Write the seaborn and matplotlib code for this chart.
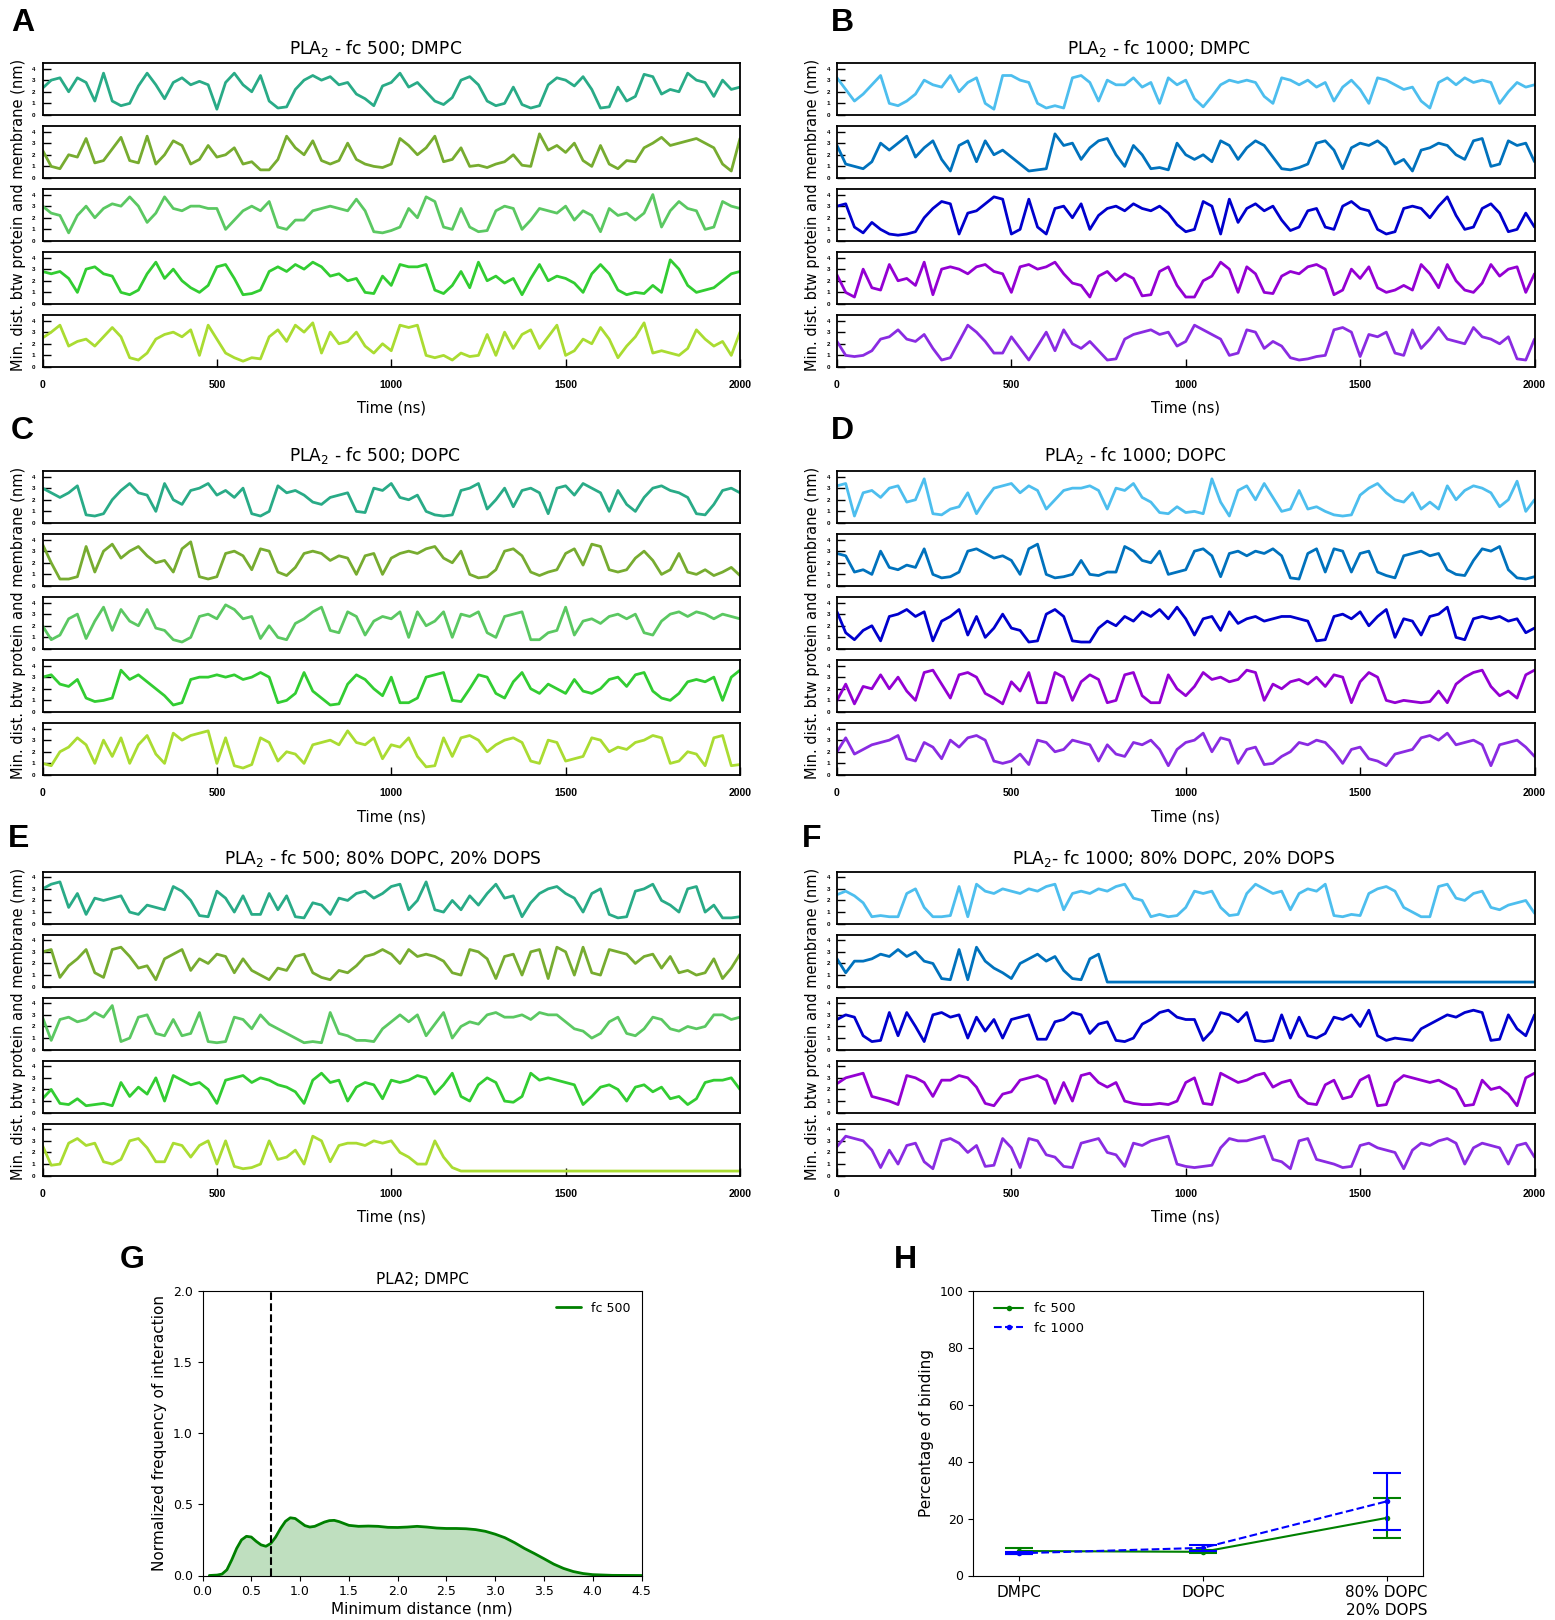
import matplotlib
matplotlib.use("Agg")
import matplotlib.pyplot as plt
import seaborn as sns
import numpy as np

sns.set_theme(style="ticks")
plt.rcParams['font.family'] = ['DejaVu Sans']
plt.rcParams['text.color'] = 'black'
plt.rcParams['axes.labelcolor'] = 'black'
plt.rcParams['xtick.color'] = 'black'
plt.rcParams['ytick.color'] = 'black'

# ---------------- data ----------------
time_ns = list(range(0, 2001, 25))

# fc 500; DMPC (panel A)
a1 = [2.3,3.0,3.2,2.0,3.2,2.8,1.2,3.6,1.2,0.8, 1.0,2.5,3.6,2.6,1.4,2.8,3.2,2.6,2.9,2.6, 0.5,2.8,3.6,2.6,2.0,3.4,1.2,0.6,0.7,2.2, 3.0,3.4,3.0,3.3,2.6,2.8,1.8,1.4,0.8,2.5, 2.8,3.6,2.4,2.8,2.0,1.2,0.9,1.5,3.0,3.3, 2.6,1.2,0.8,1.0,2.4,0.9,0.6,0.8,2.6,3.2, 3.0,2.5,3.3,2.2,0.6,0.7,2.4,1.2,1.6,3.5, 3.3,1.8,2.2,2.0,3.6,3.0,2.8,1.6,3.0,2.2, 2.4]
a2 = [2.4,1.0,0.8,2.0,1.8,3.4,1.3,1.5,2.5,3.5, 1.5,1.3,3.6,1.2,2.0,3.2,2.8,1.2,1.6,2.8, 1.8,2.0,2.6,1.2,1.4,0.7,0.7,1.6,3.6,2.6, 2.0,3.2,1.5,1.2,1.5,3.0,1.6,1.2,1.0,0.9, 1.2,3.4,2.8,2.0,2.6,3.6,1.4,1.6,2.6,1.0, 1.1,0.9,1.2,1.4,2.0,1.1,1.0,3.8,2.4,2.8, 2.2,3.0,1.5,1.0,2.8,1.2,0.8,1.5,1.4,2.6, 3.0,3.5,2.8,3.0,3.2,3.4,3.0,2.6,1.2,0.6, 3.4]
a3 = [3.0,2.4,2.2,0.7,2.2,3.0,2.0,2.8,3.2,3.0, 3.8,3.0,1.6,2.4,3.8,2.8,2.6,3.0,3.0,2.8, 2.8,1.0,1.8,2.6,3.0,2.6,3.4,1.2,1.0,1.8, 1.8,2.6,2.8,3.0,2.8,2.6,3.6,2.6,0.8,0.7, 0.9,1.2,2.8,2.0,3.8,3.4,1.2,1.0,2.8,1.2, 0.8,0.9,2.6,3.0,2.8,1.0,1.8,2.8,2.6,2.4, 3.0,1.8,2.6,2.2,0.8,2.8,2.2,2.4,1.8,2.4, 4.0,1.2,2.6,3.4,2.8,2.6,1.0,1.2,3.4,3.0, 2.8]
a4 = [2.8,2.6,2.8,2.2,1.0,3.0,3.2,2.6,2.4,1.0, 0.8,1.2,2.6,3.6,2.2,3.0,2.0,1.4,1.0,1.6, 3.2,3.4,2.2,0.8,0.9,1.2,2.8,3.2,2.8,3.4, 3.0,3.6,3.2,2.4,2.6,2.0,2.2,1.0,0.9,2.4, 1.6,3.4,3.2,3.2,3.4,1.2,0.9,1.6,2.8,1.4, 3.6,2.0,2.4,1.8,2.2,0.8,2.2,3.4,2.0,2.4, 2.2,1.8,1.0,2.6,3.4,2.6,1.2,0.8,1.0,0.9, 1.6,1.0,3.8,3.0,1.6,1.0,1.2,1.4,2.0,2.6, 2.8]
a5 = [2.5,3.0,3.6,1.8,2.2,2.4,1.8,2.6,3.4,2.6, 0.8,0.6,1.2,2.4,2.8,3.0,2.6,3.2,1.0,3.6, 2.4,1.2,0.8,0.5,0.8,0.7,2.6,3.2,2.2,3.6, 3.0,3.8,1.2,3.0,2.0,2.2,3.0,1.8,1.2,2.0, 1.4,3.6,3.4,3.6,1.0,0.8,1.0,0.6,1.2,0.9, 1.0,2.8,1.0,3.0,1.6,2.8,3.2,1.6,2.6,3.6, 1.0,1.4,2.4,2.0,3.4,2.4,0.8,1.8,2.6,3.8, 1.2,1.4,1.2,1.0,1.6,3.2,2.4,1.8,2.2,1.0, 3.0]

# fc 1000; DMPC (panel B)
b1 = [3.2,2.2,1.2,1.8,2.6,3.4,1.0,0.8,1.2,1.8, 3.0,2.6,2.4,3.4,2.0,2.8,3.2,1.0,0.5,3.4, 3.4,3.0,2.8,1.0,0.6,0.8,0.6,3.2,3.4,2.8, 1.2,3.0,2.6,2.6,3.2,2.4,2.8,1.0,3.2,2.6, 3.0,1.4,0.7,1.6,2.6,3.0,2.8,3.0,2.8,1.6, 1.0,3.2,3.0,2.6,3.0,2.4,2.8,1.2,2.4,3.0, 2.2,1.0,3.2,3.0,2.6,2.2,2.4,1.2,0.6,2.8, 3.2,2.6,3.2,2.8,3.0,2.8,1.0,2.0,2.8,2.4, 2.6]
b2 = [2.8,1.2,1.0,0.8,1.4,3.0,2.4,3.0,3.6,1.8, 2.6,3.2,1.6,0.6,2.8,3.2,1.4,3.2,2.0,2.4, 1.8,1.2,0.6,0.7,0.8,3.8,2.8,3.0,1.6,2.6, 3.2,3.4,2.0,1.0,2.8,2.0,0.8,0.9,0.7,3.0, 2.0,1.6,2.0,1.4,3.2,2.8,1.6,2.6,3.2,2.8, 1.8,0.8,0.7,0.9,1.2,3.0,3.2,2.4,0.8,2.6, 3.0,2.8,3.2,2.6,1.2,1.6,0.6,2.4,2.6,3.0, 2.8,2.0,1.6,3.2,3.4,1.0,1.2,3.2,2.8,3.0, 1.4]
b3 = [3.0,3.2,1.2,0.7,1.6,1.0,0.6,0.5,0.6,0.8, 2.0,2.8,3.4,3.2,0.6,2.4,2.6,3.2,3.8,3.6, 0.6,1.0,3.6,1.2,0.6,2.8,3.0,2.0,3.2,1.0, 2.2,2.8,3.0,2.6,3.2,2.8,2.6,3.0,2.4,1.4, 0.8,1.0,3.4,3.0,0.6,3.6,1.6,2.8,3.2,2.6, 3.0,1.8,0.9,1.2,2.6,2.8,1.2,1.0,3.0,3.4, 2.8,2.6,1.0,0.6,0.8,2.8,3.0,2.8,2.0,3.0, 3.8,2.2,1.0,1.2,2.8,3.2,2.4,0.8,1.0,2.4, 1.2]
b4 = [2.5,1.0,0.6,3.0,1.4,1.2,3.4,2.0,2.2,1.6, 3.6,0.8,3.0,3.2,3.0,2.6,3.2,3.4,2.8,2.6, 1.0,3.2,3.4,3.0,3.2,3.6,2.6,1.8,1.6,0.6, 2.4,2.8,2.0,2.6,2.2,0.7,0.8,2.8,3.2,1.6, 0.6,0.6,2.0,2.4,3.6,3.0,1.0,3.2,2.6,1.0, 0.9,2.4,2.8,2.6,3.2,3.4,3.0,0.8,1.2,3.0, 2.2,3.2,1.4,1.0,1.2,1.6,1.2,3.4,2.6,1.4, 3.4,2.0,1.2,1.0,1.8,3.4,2.4,3.0,3.2,1.0, 2.6]
b5 = [2.2,1.0,0.9,1.0,1.4,2.4,2.6,3.2,2.4,2.2, 2.8,1.6,0.6,0.8,2.2,3.6,3.0,2.2,1.2,1.2, 2.6,1.6,0.6,1.8,3.0,1.4,3.2,2.0,1.6,2.2, 1.4,0.6,0.7,2.4,2.8,3.0,3.2,2.8,3.0,1.8, 2.2,3.6,3.2,2.8,2.4,1.0,1.2,3.2,3.0,1.6, 2.2,1.8,0.8,0.6,0.7,0.9,1.0,3.2,3.4,3.0, 0.9,2.8,2.6,3.0,1.2,1.0,3.2,1.6,2.4,3.4, 2.4,2.2,2.0,3.4,2.6,2.4,2.0,2.6,0.7,0.6, 2.4]

# fc 500; DOPC (panel C)
c1 = [3.0,2.6,2.2,2.6,3.2,0.7,0.6,0.8,2.0,2.8, 3.4,2.6,2.4,1.0,3.4,2.0,1.6,2.8,3.0,3.4, 2.4,2.8,2.2,3.0,0.8,0.6,1.0,3.2,2.6,2.8, 2.4,1.8,1.6,2.2,2.4,2.6,1.0,0.9,3.0,2.8, 3.4,2.2,2.0,2.4,1.0,0.7,0.6,0.7,2.8,3.0, 3.4,1.2,2.0,3.0,1.4,2.8,3.0,2.6,0.8,3.0, 3.2,2.4,3.4,3.0,2.6,1.0,2.8,1.6,1.0,2.2, 3.0,3.2,2.8,2.6,2.2,0.8,0.7,1.6,2.8,3.0, 2.6]
c2 = [3.6,2.0,0.6,0.6,0.8,3.4,1.2,3.0,3.6,2.4, 3.0,3.4,2.6,2.0,2.2,1.2,3.2,3.8,0.8,0.6, 0.8,2.8,3.0,2.6,1.4,3.2,3.0,1.2,0.9,1.6, 2.8,3.0,2.8,2.2,2.6,2.4,1.0,2.6,2.8,1.0, 2.4,2.8,3.0,2.8,3.2,3.4,2.4,2.0,3.0,1.0, 0.7,0.8,1.4,3.0,3.2,2.6,1.2,0.9,1.2,1.4, 2.8,3.2,1.8,3.6,3.4,1.4,1.2,1.4,2.4,3.0, 2.2,1.0,1.4,2.8,1.2,1.0,1.4,0.9,1.2,1.6, 0.9]
c3 = [2.0,0.8,1.2,2.6,3.0,0.9,2.4,3.6,1.6,3.4, 2.4,2.0,3.4,1.8,1.6,0.8,0.6,1.0,2.8,3.0, 2.6,3.8,3.4,2.6,2.8,0.9,2.0,1.0,0.8,2.2, 2.6,3.2,3.6,1.6,1.4,3.2,2.8,1.2,2.4,2.8, 2.6,3.2,1.0,3.2,2.0,2.4,3.2,1.0,3.0,2.8, 3.2,1.4,1.0,2.8,3.0,3.2,0.8,0.8,1.4,1.6, 3.6,1.2,2.4,2.6,2.2,2.8,3.0,2.6,3.0,1.4, 1.2,2.4,3.0,3.2,2.8,3.2,3.0,2.6,3.0,2.8, 2.6]
c4 = [3.0,3.2,2.4,2.2,2.8,1.2,0.9,1.0,1.2,3.6, 2.8,3.2,2.6,2.0,1.4,0.6,0.8,2.8,3.0,3.0, 3.2,3.0,3.2,2.8,3.0,3.4,3.0,0.8,1.0,1.6, 3.4,1.8,1.2,0.6,0.7,2.4,3.2,2.8,2.0,1.4, 3.0,0.8,0.8,1.2,3.0,3.2,3.4,1.0,0.9,2.0, 3.2,3.0,1.6,1.2,2.6,3.4,2.0,1.6,2.4,2.0, 1.6,2.8,1.8,1.6,2.0,2.8,3.0,2.2,3.2,3.4, 1.8,1.2,1.0,1.6,2.6,2.8,2.6,3.0,1.0,3.0, 3.6]
c5 = [1.0,0.8,2.0,2.4,3.2,2.6,1.0,3.0,1.6,3.2, 1.0,2.6,3.4,1.8,1.0,3.6,3.0,3.4,3.6,3.8, 1.0,3.2,0.8,0.6,0.9,3.2,2.8,1.2,2.0,1.8, 1.0,2.6,2.8,3.0,2.6,3.8,2.8,2.6,3.2,1.4, 2.6,2.4,3.2,1.6,0.7,0.8,3.2,1.6,3.2,3.4, 3.0,2.0,2.6,3.0,3.2,2.8,1.2,1.0,3.0,2.8, 1.2,1.4,1.6,3.2,3.0,2.0,2.4,2.2,2.8,3.0, 3.4,3.2,1.0,1.2,2.0,1.8,0.8,3.2,3.4,0.8, 0.9]

# fc 1000; DOPC (panel D)
d1 = [3.2,3.4,0.6,2.6,2.8,2.2,3.0,3.2,1.8,2.0, 3.8,0.8,0.7,1.2,1.4,2.6,0.8,2.0,3.0,3.2, 3.4,2.6,3.2,2.8,1.2,2.0,2.8,3.0,3.0,3.2, 2.8,1.2,3.0,2.8,3.4,2.2,1.8,0.9,0.8,1.4, 0.9,1.0,0.8,3.8,1.8,0.6,2.8,3.2,2.0,3.4, 2.2,1.0,1.2,2.8,1.2,1.4,1.0,0.7,0.6,0.7, 2.4,3.0,3.4,2.6,2.0,1.8,2.6,1.2,1.8,1.2, 3.2,2.0,2.8,3.2,3.0,2.6,1.4,2.0,3.6,1.0, 2.0]
d2 = [2.8,2.6,1.2,1.4,1.0,3.0,1.6,1.4,1.8,1.6, 3.2,1.0,0.7,0.8,1.2,3.0,3.2,2.8,2.4,2.6, 2.2,1.0,3.2,3.6,1.0,0.7,0.8,1.0,2.2,1.0, 0.9,1.2,1.2,3.4,3.0,2.2,2.0,3.0,1.0,1.2, 1.4,3.0,3.2,2.6,0.8,2.8,3.0,2.6,3.0,2.8, 3.2,2.6,0.7,0.6,2.8,3.2,1.2,3.2,3.0,1.2, 2.8,3.0,1.2,0.9,0.7,2.6,2.8,3.0,2.6,2.8, 1.4,1.0,0.9,2.2,3.2,3.0,3.4,1.4,0.7,0.6, 0.8]
d3 = [3.2,1.4,0.8,1.6,2.0,0.7,2.8,3.0,3.4,2.8, 3.2,0.7,2.4,2.8,3.4,1.2,2.8,1.0,1.8,3.0, 1.8,1.6,0.6,0.7,3.0,3.4,2.8,0.7,0.6,0.6, 1.8,2.4,2.0,2.8,2.4,3.2,2.8,3.4,2.6,3.6, 2.6,1.2,2.6,2.8,1.6,3.2,2.2,2.6,2.8,2.4, 2.6,2.8,2.8,2.6,2.4,0.7,0.8,2.8,3.0,2.6, 3.2,2.0,2.8,3.4,1.0,2.6,2.4,1.2,2.8,3.0, 3.6,1.0,0.8,2.6,2.8,2.6,2.8,2.4,2.6,1.4, 1.8]
d4 = [1.0,2.4,0.7,2.2,2.0,3.2,2.0,3.0,1.8,1.0, 3.4,3.6,2.4,1.2,3.2,3.4,3.0,1.6,1.2,0.7, 2.6,1.8,3.4,0.8,0.8,3.4,3.0,1.0,2.6,3.2, 2.8,0.8,1.0,3.2,3.4,1.4,0.8,0.8,3.2,2.0, 1.4,2.2,3.4,2.8,3.0,2.6,2.8,3.6,3.4,1.0, 2.4,2.0,2.6,2.8,2.4,3.0,2.2,3.2,3.0,0.8, 2.6,3.4,3.0,1.0,0.8,1.0,0.9,0.8,0.9,1.8, 0.8,2.4,3.0,3.4,3.6,2.2,1.4,1.8,1.2,3.2, 3.6]
d5 = [2.0,3.2,1.8,2.2,2.6,2.8,3.0,3.4,1.4,1.2, 2.8,2.4,1.4,3.0,2.4,3.2,3.4,3.0,1.2,1.0, 1.2,1.8,0.9,3.0,2.8,2.0,2.2,3.0,2.8,2.6, 1.2,2.6,1.8,1.6,2.8,2.6,3.0,2.2,0.8,2.2, 2.8,3.0,3.6,2.0,3.2,3.0,1.0,2.2,2.4,0.9, 1.0,1.6,2.0,2.8,2.6,3.0,2.8,2.0,1.0,2.2, 2.4,1.4,1.2,0.8,1.8,2.0,2.2,3.2,3.4,3.0, 3.6,2.6,2.8,3.0,2.6,0.8,2.6,2.8,3.0,2.4, 1.6]

# fc 500; 80% DOPC, 20% DOPS (panel E)
e1 = [3.0,3.4,3.6,1.4,2.6,0.8,2.2,2.0,2.2,2.4, 1.0,0.8,1.6,1.4,1.2,3.2,2.8,2.0,0.7,0.6, 2.8,2.2,1.0,2.4,0.8,0.8,2.6,1.2,2.4,0.6, 0.5,1.8,1.6,0.8,2.2,2.0,2.6,2.8,2.2,2.6, 3.2,3.4,1.2,2.0,3.6,1.2,1.0,2.0,1.2,2.4, 1.6,2.6,3.4,2.2,2.4,0.6,1.8,2.6,3.0,3.2, 2.6,2.2,1.0,2.6,3.0,0.8,0.5,0.6,2.8,3.0, 3.4,2.0,1.6,1.0,3.0,3.2,1.0,1.6,0.5,0.5, 0.6]
e2 = [3.0,3.2,0.8,1.8,2.4,3.2,1.2,0.8,3.2,3.4, 2.6,1.6,1.8,0.6,2.4,2.8,3.2,1.4,2.4,2.0, 2.8,2.6,1.2,2.4,1.4,1.0,0.6,1.6,1.4,2.6, 2.8,1.2,0.8,0.6,1.4,1.2,1.8,2.6,2.8,3.2, 2.8,2.0,3.2,2.6,2.8,2.6,2.2,1.2,1.0,3.2, 3.0,2.4,0.7,2.6,2.8,1.0,3.0,3.2,0.7,3.4, 3.0,1.0,3.4,1.2,1.0,3.2,3.0,2.8,2.0,2.6, 2.8,1.6,2.6,1.2,1.4,1.0,1.2,2.4,0.7,1.6, 2.8]
e3 = [2.8,0.8,2.6,2.8,2.4,2.6,3.2,2.8,3.8,0.7, 1.0,2.8,3.0,1.4,1.2,2.6,1.2,1.4,3.2,0.7, 0.6,0.7,2.8,2.6,1.8,3.0,2.2,1.8,1.4,1.0, 0.6,0.7,0.6,3.2,1.4,1.2,0.8,0.8,0.7,1.8, 2.4,3.0,2.4,3.0,1.2,2.2,3.2,1.0,2.0,2.4, 2.2,3.0,3.2,2.8,2.8,3.0,2.6,3.2,3.0,3.0, 2.4,1.8,1.6,1.0,1.4,2.4,2.8,1.4,1.2,1.8, 2.8,2.6,1.8,1.6,2.0,1.8,2.0,3.0,3.0,2.6, 2.8]
e4 = [1.2,2.0,0.8,0.7,1.2,0.6,0.7,0.8,0.6,2.6, 1.4,2.2,1.6,3.0,1.0,3.2,2.8,2.4,2.6,2.0, 0.8,2.8,3.0,3.2,2.6,3.0,2.8,2.4,2.2,1.8, 0.8,2.8,3.4,2.6,2.8,1.0,2.2,2.6,2.4,1.2, 2.8,2.6,2.8,3.2,3.0,1.6,2.4,3.4,1.4,1.0, 2.4,3.0,2.6,1.0,0.9,1.4,3.4,2.8,3.0,2.8, 2.6,2.4,0.7,1.4,2.2,2.4,2.0,1.0,2.2,2.4, 1.8,2.2,1.2,1.4,0.7,1.2,2.6,2.8,2.8,3.0, 2.0]
e5 = [2.6,0.9,1.0,2.8,3.2,2.6,2.8,1.2,1.0,1.4, 3.0,3.2,2.4,1.2,1.2,2.8,2.6,1.6,2.6,3.0, 1.0,3.0,0.8,0.6,0.7,1.0,3.0,1.4,1.6,2.2, 1.0,3.4,3.0,1.2,2.6,2.8,2.8,2.6,3.0,2.8, 3.0,2.0,1.6,1.0,1.0,3.0,1.6,0.7,0.4,0.4,
      0.4,0.4,0.4,0.4,0.4,0.4,0.4,0.4,0.4,0.4, 0.4,0.4,0.4,0.4,0.4,0.4,0.4,0.4,0.4,0.4, 0.4,0.4,0.4,0.4,0.4,0.4,0.4,0.4,0.4,0.4,
      0.4]

# fc 1000; 80% DOPC, 20% DOPS (panel F)
f1 = [2.5,2.8,2.4,1.8,0.6,0.7,0.6,0.6,2.6,3.0, 1.4,0.6,0.6,0.7,3.2,0.6,3.4,2.8,2.6,3.0, 2.8,2.6,3.0,2.8,3.2,3.4,1.2,2.6,2.8,2.6, 3.0,2.8,3.2,3.4,2.2,2.0,0.6,0.8,0.6,0.7, 1.4,2.8,2.6,2.8,1.4,0.7,0.8,2.6,3.4,3.0, 2.6,2.8,1.2,2.6,3.0,2.8,3.4,0.7,0.6,0.8, 0.7,2.6,3.0,3.2,2.8,1.4,1.0,0.6,0.6,3.2, 3.4,2.2,2.0,2.6,2.8,1.4,1.2,1.6,1.8,2.0, 0.9]
f2 = [2.4,1.2,2.2,2.2,2.4,2.8,2.6,3.2,2.6,3.0, 2.2,2.0,0.7,0.6,3.2,0.6,3.4,2.2,1.6,1.2, 0.7,2.0,2.4,2.8,2.2,2.6,1.4,0.7,0.6,2.4,
      2.8,0.4,0.4,0.4,0.4,0.4,0.4,0.4,0.4,0.4, 0.4,0.4,0.4,0.4,0.4,0.4,0.4,0.4,0.4,0.4, 0.4,0.4,0.4,0.4,0.4,0.4,0.4,0.4,0.4,0.4,
      0.4,0.4,0.4,0.4,0.4,0.4,0.4,0.4,0.4,0.4, 0.4,0.4,0.4,0.4,0.4,0.4,0.4,0.4,0.4,0.4, 0.4]
f3 = [2.6,3.0,2.8,1.2,0.7,0.8,3.2,1.2,3.2,2.0, 0.7,3.0,3.2,2.8,3.0,1.0,2.8,1.6,2.6,1.0, 2.6,2.8,3.0,0.9,0.9,2.4,2.6,3.2,3.0,1.4, 2.2,2.4,0.8,0.7,1.0,2.2,2.6,3.2,3.4,2.8, 2.6,2.6,0.8,1.6,3.2,3.0,2.4,3.2,0.8,0.7, 0.8,3.0,1.0,2.8,1.2,1.0,1.4,2.8,2.6,3.0, 2.0,3.4,1.2,0.8,1.0,0.9,0.8,1.8,2.2,2.6, 3.0,2.8,3.2,3.4,3.2,0.8,0.9,3.0,1.8,1.2, 3.0]
f4 = [2.5,3.0,3.2,3.4,1.4,1.2,1.0,0.7,3.2,3.0, 2.6,1.4,2.8,2.8,3.2,3.0,2.2,0.8,0.6,1.6, 1.8,2.8,3.0,3.2,2.8,0.8,2.6,1.0,3.2,3.4, 2.6,2.2,2.6,1.0,0.8,0.7,0.7,0.8,0.7,1.0, 2.6,3.0,0.8,0.7,3.4,3.0,2.6,2.8,3.2,3.4, 2.2,2.6,2.8,1.4,0.8,0.7,2.4,2.8,1.2,1.4, 2.8,3.2,0.6,0.7,2.6,3.2,3.0,2.8,2.6,2.8, 2.4,2.0,0.6,0.7,2.8,2.0,2.2,1.6,0.6,3.0, 3.4]
f5 = [2.5,3.4,3.2,3.0,2.2,0.7,2.2,1.0,2.6,2.8, 1.2,0.6,3.0,3.2,2.8,2.0,2.6,0.8,0.9,3.2, 2.4,0.7,3.2,3.0,1.8,1.6,0.8,0.7,2.8,3.0, 3.2,2.0,1.8,0.8,2.8,2.6,3.0,3.2,3.4,1.0, 0.8,0.7,0.8,0.9,2.4,3.2,3.0,3.0,3.2,3.4, 1.4,1.2,0.6,3.0,3.2,1.4,1.2,1.0,0.7,0.8, 2.6,2.8,2.4,2.2,2.0,0.6,2.2,2.8,2.6,3.0, 3.2,2.8,1.0,2.4,2.8,2.6,2.4,1.0,2.6,2.8, 1.6]

# Panel G: density curve
dist_nm = [0.07,0.15,0.2,0.25,0.3,0.35,0.4,0.45,0.5,0.55, 0.6,0.65,0.7,0.75,0.8,0.85,0.9,0.95,1.0,1.05,
           1.1,1.15,1.2,1.25,1.3,1.35,1.4,1.5,1.6,1.7, 1.8,1.9,2.0,2.1,2.2,2.3,2.4,2.5,2.6,2.7,
           2.8,2.9,3.0,3.1,3.2,3.3,3.4,3.5,3.6,3.7, 3.8,3.9,4.0,4.2,4.5]
density_fc500 = [0.0,0.003,0.01,0.04,0.11,0.19,0.25,0.275,0.27,0.24, 0.215,0.205,0.225,0.27,0.33,0.38,0.405,0.40,0.375,0.35,
                 0.34,0.345,0.36,0.375,0.385,0.387,0.378,0.352,0.345,0.347, 0.345,0.338,0.337,0.34,0.345,0.34,0.333,0.33,0.33,0.328,
                 0.322,0.31,0.29,0.265,0.23,0.19,0.155,0.118,0.08,0.05, 0.028,0.014,0.006,0.001,0.0]
cutoff_nm = 0.7

# Panel H: percentage of binding
membranes = ['DMPC', 'DOPC', '80% DOPC\n20% DOPS']
bind_fc500 = [8.6, 8.3, 20.2]
err_fc500 = [1.0, 0.5, 7.0]
bind_fc1000 = [7.8, 9.7, 26.0]
err_fc1000 = [0.3, 1.0, 10.0]

green_cols = ['#29AB87', '#77AC30', '#5BC862', '#32CD32', '#AADC32']
blue_cols = ['#4DBEEE', '#0072BD', '#0000CD', '#9400D3', '#8A2BE2']

for s in [a1,a2,a3,a4,a5,b1,b2,b3,b4,b5,c1,c2,c3,c4,c5,d1,d2,d3,d4,d5,e1,e2,e3,e4,e5,f1,f2,f3,f4,f5]:
    assert len(s) == len(time_ns), len(s)

# ---------------- figure ----------------
W, H = 1555, 1620
fig = plt.figure(figsize=(W / 100, H / 100), dpi=100)


def add_ax(left, top, width, height):
    return fig.add_axes([left / W, 1 - (top + height) / H, width / W, height / H])


def ftext(x, y, s, **kw):
    fig.text(x / W, 1 - y / H, s, **kw)


SUB_H = 51.7
PITCH = 63.0
BOLD = dict(family=['Liberation Sans', 'DejaVu Sans'], fontweight='bold')

panels = [
    dict(letter='A', lpos=(22.7, 22.7), title=r'PLA$_2$ - fc 500; DMPC', series=[a1, a2, a3, a4, a5],
         colors=green_cols, left=42.5, right=740.0, top=63.3, tx=375.6, ty=48.6, xly=408, yx=18.6),
    dict(letter='B', lpos=(842, 22.7), title=r'PLA$_2$ - fc 1000; DMPC', series=[b1, b2, b3, b4, b5],
         colors=blue_cols, left=837.0, right=1534.5, top=63.3, tx=1159.2, ty=48.6, xly=408, yx=812),
    dict(letter='C', lpos=(22.7, 430.8), title=r'PLA$_2$ - fc 500; DOPC', series=[c1, c2, c3, c4, c5],
         colors=green_cols, left=42.5, right=740.0, top=471.3, tx=374.5, ty=455.6, xly=817, yx=18.6),
    dict(letter='D', lpos=(842, 430.8), title=r'PLA$_2$ - fc 1000; DOPC', series=[d1, d2, d3, d4, d5],
         colors=blue_cols, left=837.0, right=1534.5, top=471.3, tx=1134.9, ty=455.6, xly=817, yx=812),
    dict(letter='E', lpos=(18.6, 839), title=r'PLA$_2$ - fc 500; 80% DOPC, 20% DOPS', series=[e1, e2, e3, e4, e5],
         colors=green_cols, left=42.5, right=740.0, top=872.0, tx=382.3, ty=858.6, xly=1217, yx=18.6),
    dict(letter='F', lpos=(812, 839), title=r'PLA$_2$- fc 1000; 80% DOPC, 20% DOPS', series=[f1, f2, f3, f4, f5],
         colors=blue_cols, left=837.0, right=1534.5, top=872.0, tx=1173.2, ty=858.6, xly=1217, yx=812),
]

for p in panels:
    width = p['right'] - p['left']
    for i, (vals, col) in enumerate(zip(p['series'], p['colors'])):
        ax = add_ax(p['left'], p['top'] + i * PITCH, width, SUB_H)
        sns.lineplot(x=time_ns, y=vals, ax=ax, color=col, linewidth=2.0, estimator=None)
        ax.set_xlim(0, 2000)
        ax.set_ylim(0, 4.45)
        ax.set_xlabel('')
        ax.set_ylabel('')
        ax.set_yticks([0, 1, 2, 3, 4])
        ax.tick_params(axis='y', direction='in', length=6, width=1.0, labelsize=4.5, pad=5,
                       left=True, right=False, color='black')
        for lab in ax.get_yticklabels():
            lab.set_fontweight('bold')
            lab.set_family(['Liberation Sans', 'DejaVu Sans'])
        for sp in ax.spines.values():
            sp.set_visible(True)
            sp.set_color('black')
            sp.set_linewidth(1.3)
        if i < 4:
            ax.set_xticks([])
        else:
            ax.set_xticks([0, 500, 1000, 1500, 2000])
            ax.tick_params(axis='x', direction='in', length=6, width=1.0, labelsize=7.5, pad=9.5,
                           bottom=True, top=False, color='black')
            for lab in ax.get_xticklabels():
                lab.set_fontweight('bold')
                lab.set_family(['Liberation Sans', 'DejaVu Sans'])
    cx = (p['left'] + p['right']) / 2
    ftext(p['tx'], p['ty'], p['title'], ha='center', va='center', fontsize=12.3)
    ftext(cx, p['xly'], 'Time (ns)', ha='center', va='center', fontsize=10.5)
    stack_mid = p['top'] + (4 * PITCH + SUB_H) / 2
    ftext(p['yx'], stack_mid, 'Min. dist. btw protein and membrane (nm)', ha='center', va='center',
          rotation=90, fontsize=10.5)
    ftext(p['lpos'][0], p['lpos'][1], p['letter'], ha='center', va='center', fontsize=23, **BOLD)

# ---------------- panel G ----------------
axg = add_ax(202.5, 1290.5, 439.0, 285.0)
sns.lineplot(x=dist_nm, y=density_fc500, ax=axg, color='green', linewidth=2.0, label='fc 500', estimator=None)
axg.fill_between(dist_nm, density_fc500, color='green', alpha=0.25, linewidth=0)
axg.axvline(cutoff_nm, color='black', linestyle='--', linewidth=1.5)
axg.set_xlim(0, 4.5)
axg.set_ylim(0, 2.0)
axg.set_xticks(np.arange(0, 4.51, 0.5))
axg.set_yticks(np.arange(0, 2.01, 0.5))
axg.set_xlabel('Minimum distance (nm)', fontsize=11, labelpad=2)
axg.set_ylabel('Normalized frequency of interaction', fontsize=11)
axg.set_title('PLA2; DMPC', fontsize=11, pad=5)
axg.tick_params(axis='both', labelsize=9, direction='out', length=3.5, width=0.8, color='black')
for sp in axg.spines.values():
    sp.set_visible(True)
    sp.set_color('black')
    sp.set_linewidth(0.8)
axg.legend(loc='upper right', frameon=False, fontsize=9)
ftext(132, 1260.5, 'G', ha='center', va='center', fontsize=23, **BOLD)

# ---------------- panel H ----------------
axh = add_ax(973.3, 1290.5, 450.0, 285.0)
xpos = np.arange(len(membranes))
sns.lineplot(x=xpos, y=bind_fc500, ax=axh, color='green', linewidth=1.5, marker='o', markersize=4,
             markeredgewidth=0, label='fc 500', estimator=None)
sns.lineplot(x=xpos, y=bind_fc1000, ax=axh, color='blue', linewidth=1.5, linestyle='--', marker='o',
             markersize=4, markeredgewidth=0, label='fc 1000', estimator=None)
axh.errorbar(xpos, bind_fc500, yerr=err_fc500, fmt='none', ecolor='green', elinewidth=1.5, capsize=10, capthick=1.5)
axh.errorbar(xpos, bind_fc1000, yerr=err_fc1000, fmt='none', ecolor='blue', elinewidth=1.5, capsize=10, capthick=1.5)
axh.set_xlim(-0.25, 2.2)
axh.set_ylim(0, 100)
axh.set_xticks(xpos)
axh.set_xticklabels(membranes, fontsize=11)
axh.set_yticks([0, 20, 40, 60, 80, 100])
axh.tick_params(axis='y', labelsize=9)
axh.tick_params(axis='both', direction='out', length=3.5, width=0.8, color='black')
axh.set_ylabel('Percentage of binding', fontsize=11)
axh.set_xlabel('')
for sp in axh.spines.values():
    sp.set_visible(True)
    sp.set_color('black')
    sp.set_linewidth(0.8)
axh.legend(loc='upper left', bbox_to_anchor=(0.02, 1.0), frameon=False, fontsize=9.5, handlelength=2.2)
ftext(905, 1260.5, 'H', ha='center', va='center', fontsize=23, **BOLD)

fig.savefig('out.png', dpi=100, facecolor='white')
